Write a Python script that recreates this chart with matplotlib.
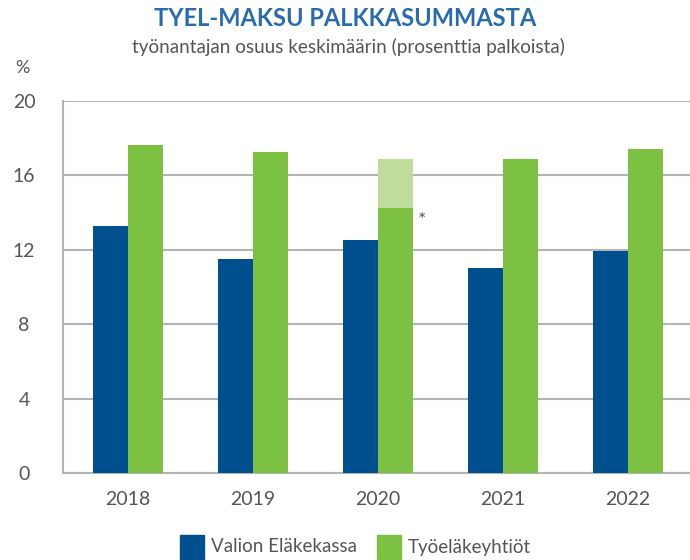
import matplotlib
matplotlib.use("Agg")
import matplotlib.pyplot as plt
import numpy as np
from matplotlib.patches import Rectangle

plt.rcParams['font.family'] = ['Lato', 'DejaVu Sans']

years = ['2018', '2019', '2020', '2021', '2022']
valio = [13.3, 11.5, 12.5, 11.0, 11.95]
tyo = [17.65, 17.25, 14.25, 16.9, 17.4]
# temporary reduction in 2020, drawn lighter on top
tyo_extra = [0, 0, 2.65, 0, 0]

blue = '#00508f'
green = '#7dc142'
lightgreen = '#bedc9c'
grey = '#555555'
gridc = '#b4b4b4'

fig = plt.figure(figsize=(6.9, 5.6), dpi=100)
ax = fig.add_axes([63/690, 87/560, 627/690, 372/560])

x = np.arange(len(years))
w = 0.28
ax.bar(x - w/2, valio, w, color=blue, zorder=3)
ax.bar(x + w/2, tyo, w, color=green, zorder=3)
ax.bar(x + w/2, tyo_extra, w, bottom=tyo, color=lightgreen, zorder=3)

ax.text(2 + w + 0.04, 13.6, '*', fontsize=14, color=grey, ha='left', va='center')

ax.set_xlim(-0.52, 4.5)
ax.set_ylim(0, 20)
ax.set_yticks([0, 4, 8, 12, 16, 20])
ax.set_xticks(x)
ax.set_xticklabels(years)
ax.yaxis.grid(True, color=gridc, linewidth=1.5, zorder=0)
ax.set_axisbelow(True)
for s in ['top', 'right']:
    ax.spines[s].set_visible(False)
for s in ['left', 'bottom']:
    ax.spines[s].set_color(gridc)
    ax.spines[s].set_linewidth(1.5)
ax.tick_params(axis='both', length=0, labelsize=14, colors=grey)
ax.tick_params(axis='x', pad=13)
ax.tick_params(axis='y', pad=28)
for lab in ax.get_yticklabels():
    lab.set_horizontalalignment('center')

fig.text(345/690, 1 - 18/560, 'TYEL-MAKSU PALKKASUMMASTA', ha='center', va='center',
         fontsize=17, fontweight='bold', color='#2a6bae')
fig.text(348/690, 1 - 47/560, 'työnantajan osuus keskimäärin (prosenttia palkoista)',
         ha='center', va='center', fontsize=13.6, color=grey)
fig.text(22/690, 1 - 68/560, '%', ha='center', va='center', fontsize=13, color=grey)

# legend
for (x0, lab, c) in [(180, 'Valion Eläkekassa', blue), (377, 'Työeläkeyhtiöt', green)]:
    fig.patches.append(Rectangle((x0/690, 1 - 559/560), 24/690, 24/560,
                                 transform=fig.transFigure, color=c))
    fig.text((x0 + 31)/690, 1 - 547/560, lab, ha='left', va='center',
             fontsize=13.5, color=grey)

fig.savefig('out.png', dpi=100)
